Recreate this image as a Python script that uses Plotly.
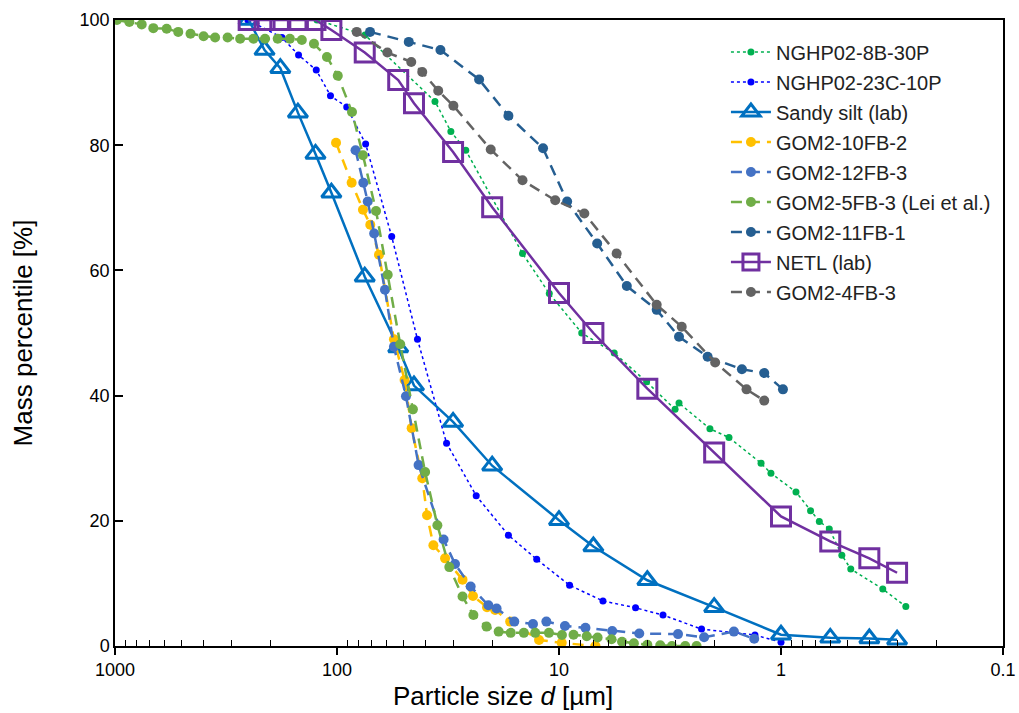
import plotly.graph_objects as go

# ---- particle size distributions: size d [um] and cumulative mass percentile [%] ----
nghp_8b_d = [123, 74.8, 36.2, 30.7, 26.3, 14.6, 11.06, 7.9, 5.64, 4.03, 3.0, 2.88, 2.09, 1.715,
             1.23, 1.11, 0.856, 0.736, 0.672, 0.606, 0.532, 0.485, 0.348, 0.274]
nghp_8b_p = [100, 97.6, 87.0, 82.2, 79.2, 62.7, 56.3, 50.0, 46.8, 42.2, 37.8, 38.8, 34.7, 33.3,
             29.2, 27.6, 24.6, 21.6, 19.9, 18.7, 14.5, 12.3, 9.1, 6.3]

nghp_23c_d = [252, 177, 149, 124, 107, 90.4, 74.3, 56.7, 43.4, 32.1, 23.6, 16.9, 12.6, 8.96,
              6.34, 4.52, 3.40, 2.28, 1.31, 1.0]
nghp_23c_p = [100, 97.2, 94.4, 92.0, 87.9, 86.1, 80.2, 65.4, 49.0, 32.4, 24.0, 17.7, 13.85, 9.7,
              7.2, 6.1, 4.95, 2.7, 1.76, 0.6]

sandy_d = [250, 212, 180, 150, 125, 106, 75, 53, 45, 30, 20, 10, 7, 4, 2, 1, 0.6, 0.4, 0.3]
sandy_p = [100, 95.2, 92.3, 85.2, 78.6, 72.4, 59.0, 47.7, 41.6, 35.8, 28.8, 20.1, 15.9, 10.5,
           6.2, 1.8, 1.3, 1.2, 1.0]

gom_10fb2_d = [101, 85.9, 76.4, 70.8, 64.7, 55.4, 49.6, 46.1, 41.3, 39.3, 36.8, 32.6, 27.2, 24.4,
               21.1, 19.4, 16.6, 12.3, 9.72, 6.85]
gom_10fb2_p = [80.4, 74.0, 69.7, 67.3, 62.5, 49.0, 42.5, 34.8, 26.8, 20.9, 16.1, 14.0, 10.6, 8.0,
               6.2, 5.75, 3.9, 0.96, 0.5, 0.0]

gom_12fb3_d = [82.5, 76.1, 72.7, 68.0, 60.8, 55.4, 48.9, 42.9, 33.1, 29.4, 25.0, 20.8, 19.1, 15.9,
               13.1, 11.4, 9.4, 7.6, 5.76, 4.35, 2.91, 2.22, 1.63, 1.32]
gom_12fb3_p = [79.2, 74.0, 71.0, 65.9, 56.9, 47.8, 39.9, 28.9, 17.0, 13.1, 9.5, 6.5, 6.0, 3.9,
               3.5, 3.9, 3.2, 2.9, 2.4, 2.0, 1.9, 1.4, 2.3, 1.15]

gom_5fb3_d = [980, 862, 758, 672, 585, 519, 457, 399, 354, 311, 273, 238, 211, 185, 163, 144, 127,
              111, 99.2, 85.6, 76.4, 66.7, 59.1, 51.9, 45.5, 40.1, 35.3, 31.2, 27.2, 24.3, 21.2,
              18.7, 16.5, 14.4, 12.8, 11.1, 9.7, 8.6, 7.5, 6.7, 5.8, 5.2, 4.6, 4.0, 3.5, 3.1,
              2.7, 2.4]
gom_5fb3_p = [100, 99.7, 99.3, 98.7, 98.6, 98.1, 97.8, 97.4, 97.2, 97.2, 97.0, 97.0, 97.0, 97.0,
              97.0, 96.8, 96.2, 94.1, 91.1, 85.3, 78.4, 69.5, 59.3, 48.2, 37.8, 27.8, 19.3, 12.6,
              7.9, 4.95, 3.1, 2.3, 2.1, 2.1, 2.1, 2.1, 1.76, 1.8, 1.55, 1.36, 1.07, 0.69, 0.43,
              0.2, 0.13, 0.0, 0.0, 0.0]

gom_11fb1_d = [71.0, 47.5, 34.2, 22.9, 16.9, 11.8, 9.19, 6.73, 4.95, 3.63, 2.88, 2.14, 1.50,
               1.19, 0.98]
gom_11fb1_p = [98.1, 96.5, 95.2, 90.5, 84.7, 79.5, 71.0, 64.3, 57.5, 53.7, 49.4, 46.2, 44.2,
               43.6, 41.0]

netl_d = [250, 212, 180, 150, 125, 106, 75, 53, 45, 30, 20, 10, 7, 4, 2, 1, 0.6, 0.4, 0.3]
netl_p = [100, 100, 100, 100, 100, 98.4, 94.8, 90.4, 86.7, 78.9, 70.1, 56.4, 50.0, 41.1, 30.9,
          20.7, 16.7, 14.0, 11.7]

gom_4fb3_d = [81.5, 59.3, 46.3, 41.3, 35.0, 29.9, 20.3, 14.6, 10.4, 7.69, 5.50, 3.63, 2.80,
              1.98, 1.43, 1.19]
gom_4fb3_p = [98.1, 94.8, 93.3, 91.7, 88.7, 86.3, 79.3, 74.4, 71.2, 69.1, 62.7, 54.5, 51.0,
              45.3, 41.0, 39.2]

x_tick_vals = [1000, 100, 10, 1, 0.1]
x_tick_text = ["1000", "100", "10", "1", "0.1"]
y_tick_vals = [0, 20, 40, 60, 80, 100]

FONT = "Arial, 'Liberation Sans', sans-serif"

fig = go.Figure()


def dotted(name, d, p, color):
    fig.add_trace(go.Scatter(
        x=d, y=p, name=name, legendgroup=name, mode="lines+markers",
        line=dict(color=color, width=1.5, dash="3px,3px"),
        marker=dict(color=color, size=7, symbol="circle"),
    ))


def dashed(name, d, p, color):
    fig.add_trace(go.Scatter(
        x=d, y=p, name=name, legendgroup=name, mode="lines+markers",
        line=dict(color=color, width=2.5, dash="11px,7px"),
        marker=dict(color=color, size=10, symbol="circle"),
    ))


dotted("NGHP02-8B-30P", nghp_8b_d, nghp_8b_p, "#00B050")
dotted("NGHP02-23C-10P", nghp_23c_d, nghp_23c_p, "#0000FF")
fig.add_trace(go.Scatter(
    x=sandy_d, y=sandy_p, name="Sandy silt (lab)", legendgroup="sandy", mode="lines+markers",
    line=dict(color="#0070C0", width=2.5),
    marker=dict(color="#0070C0", size=17, symbol="triangle-up-open",
                line=dict(color="#0070C0", width=3)),
))
dashed("GOM2-10FB-2", gom_10fb2_d, gom_10fb2_p, "#FFC000")
dashed("GOM2-12FB-3", gom_12fb3_d, gom_12fb3_p, "#4472C4")
dashed("GOM2-5FB-3 (Lei et al.)", gom_5fb3_d, gom_5fb3_p, "#70AD47")
dashed("GOM2-11FB-1", gom_11fb1_d, gom_11fb1_p, "#255E91")
fig.add_trace(go.Scatter(
    x=netl_d, y=netl_p, name="NETL (lab)", legendgroup="netl", mode="lines+markers",
    line=dict(color="#7030A0", width=2.5),
    marker=dict(color="#7030A0", size=19, symbol="square-open",
                line=dict(color="#7030A0", width=3)),
))
dashed("GOM2-4FB-3", gom_4fb3_d, gom_4fb3_p, "#636363")

minor_vals = [m * 10 ** e for e in range(-1, 3) for m in range(2, 10)]

fig.update_layout(
    width=1019, height=713,
    margin=dict(l=115, r=16, t=20, b=67),
    paper_bgcolor="white", plot_bgcolor="white",
    font=dict(family=FONT, size=18, color="#000000"),
    showlegend=True,
    legend=dict(
        x=0.688, y=0.98, xanchor="left", yanchor="top",
        bgcolor="rgba(0,0,0,0)", font=dict(size=20, color="#222222"),
        tracegroupgap=1, itemwidth=40,
    ),
    xaxis=dict(
        type="log", range=[3, -1], automargin=False,
        tickmode="array", tickvals=x_tick_vals, ticktext=x_tick_text,
        ticks="outside", ticklen=7, tickwidth=1.5, tickcolor="black",
        minor=dict(tickvals=minor_vals, ticks="inside", ticklen=6, tickwidth=1.2,
                   tickcolor="black", showgrid=False),
        showline=True, linecolor="black", linewidth=1.5, mirror=True,
        showgrid=False, zeroline=False,
        tickfont=dict(size=18),
    ),
    yaxis=dict(
        range=[0, 100], automargin=False, tickmode="array", tickvals=y_tick_vals,
        ticks="inside", ticklen=8, tickwidth=1.5, tickcolor="black",
        showline=True, linecolor="black", linewidth=1.5, mirror=True,
        showgrid=False, zeroline=False,
        tickfont=dict(size=18),
        title=dict(text="Mass percentile [%]", font=dict(size=26), standoff=40),
    ),
    annotations=[dict(
        text="Particle size <i>d</i> [µm]", xref="paper", yref="paper",
        x=0.437, y=-0.08, xanchor="center", yanchor="middle",
        showarrow=False, font=dict(size=26),
    )],
)

fig.write_html("out.html")
